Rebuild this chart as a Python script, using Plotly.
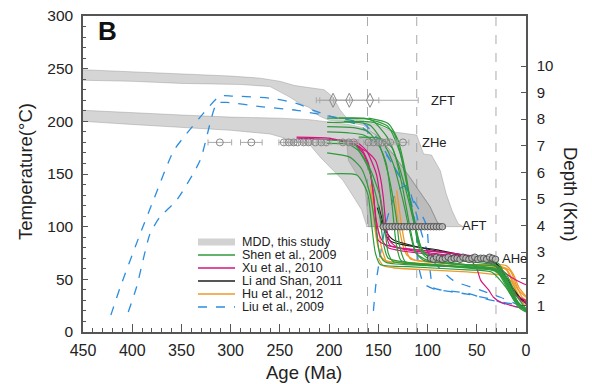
import plotly.graph_objects as go

# ---------------- data (age in Ma, temperature in °C) ----------------
# MDD envelopes
mdd_upper_age = [450, 400, 350, 300, 270, 250, 235, 220, 205, 196, 189, 182, 166, 148, 135, 111, 104, 96, 87, 81, 75, 69, 64,
                 88, 91, 97.5, 118, 135, 150, 165, 185, 200, 210, 220, 230, 240, 260, 290, 350, 400, 450]
mdd_upper_temp = [249, 247, 245, 243, 241, 238, 234, 232, 230, 223, 211, 203, 201, 195, 190, 187, 169, 168, 153, 131, 115, 103, 100,
                  100, 106, 119, 147, 169, 185, 196, 200, 201, 205, 213, 217, 223, 233, 235, 236, 238, 239]
mdd_lower_age = [450, 400, 350, 300, 250, 220, 200, 180, 165, 150, 135, 118, 97.5, 91, 87,
                 162, 162, 167, 175, 186, 196, 209, 219, 230, 260, 300, 350, 400, 450]
mdd_lower_temp = [210.5, 208, 206, 204, 203, 201.6, 199, 197, 194, 186, 169, 147, 119, 106, 100,
                  100, 101, 116, 128, 144, 153.5, 166, 177, 180, 188, 191.5, 194, 197, 200]
mdd_core_age = [182, 180.5, 172, 163.6, 160, 160, 87, 91, 97.5, 118, 135, 150, 165, 182]
mdd_core_temp = [179, 163, 150, 138, 101, 100, 100, 106, 119, 147, 169, 180, 185, 179]

# Shen et al., 2009
shen_age = [
    [202, 165, 155, 141, 131, 121, 113, 108, 100, 60, 30, 20, 10, 0],
    [202, 170, 158, 145, 135, 125, 118, 112, 100, 60, 30, 18, 5, 0],
    [202, 175, 160, 148, 140, 132, 128, 122, 90, 40, 25, 12, 0],
    [202, 180, 165, 150, 142, 136, 132, 127, 100, 50, 30, 15, 0],
    [202, 178, 172, 158, 148, 143, 140, 135, 100, 50, 28, 12, 0],
    [202, 180, 170, 160, 150, 145, 140, 120, 60, 35, 22, 10, 0],
    [202, 179, 167, 158.5, 152, 148, 142, 100, 40, 25, 12, 0],
    [202, 172, 163.6, 160, 156.7, 153, 148, 120, 60, 35, 20, 8, 0],
    [190, 160, 140, 128, 120, 112, 106, 98, 60, 35, 20, 10, 0],
    [185, 155, 135, 125, 117, 110, 103, 90, 50, 30, 20, 8, 0],
    [170, 150, 136, 126, 118, 112, 104, 60, 30, 18, 6, 0],
    [160, 140, 130, 122, 115, 108, 100, 70, 40, 28, 18, 8, 0],
]
shen_temp = [
    [203, 203, 200, 185, 163, 131, 100, 78, 70, 64, 60, 50, 30, 20],
    [199, 199, 196, 180, 160, 125, 95, 75, 68, 63, 59, 42, 24, 21],
    [195, 194, 190, 175, 150, 110, 80, 66, 63, 60, 57, 33, 20],
    [190, 189, 187, 178, 160, 120, 85, 68, 64, 61, 58, 35, 21],
    [182, 181, 176, 154, 128, 95, 75, 67, 64, 60, 58, 32, 20],
    [179, 178, 172, 155, 120, 85, 70, 66, 62, 60, 50, 28, 20],
    [170, 166, 155, 131, 95, 72, 66, 63, 60, 55, 30, 20],
    [150, 149, 138, 128, 101, 75, 64, 62, 59, 57, 42, 24, 19],
    [203, 202, 195, 170, 135, 100, 78, 71, 68, 66, 55, 35, 22],
    [200, 199, 190, 160, 120, 90, 74, 70, 66, 63, 50, 28, 20],
    [185, 184, 175, 140, 100, 76, 68, 64, 62, 45, 24, 21],
    [203, 198, 182, 150, 110, 82, 73, 70, 68, 65, 48, 28, 22],
]

# Xu et al., 2010
xu_age = [
    [233, 200, 186, 175, 165, 158.5, 155, 152, 150, 140, 128, 80, 47, 30, 15, 3, 0],
    [233, 205, 190, 175, 160, 153, 148, 145, 142, 138, 130, 100, 60, 50, 46, 38, 33, 25, 10, 0],
    [200, 180, 168, 160, 155, 152, 148, 140, 110, 70, 45, 30, 20, 10, 0],
    [190, 172, 162, 152, 147, 143, 138, 120, 80, 50, 35, 25, 15, 5, 0],
]
xu_temp = [
    [185, 184, 181, 179, 169, 153, 131, 100, 87, 82, 80, 75, 71, 62, 52, 46, 45],
    [184, 183, 182, 178, 170, 163, 147, 128, 100, 86, 80, 77, 72, 60, 49, 40, 33, 28, 24, 22],
    [183, 181, 175, 160, 130, 105, 90, 80, 75, 71, 68, 62, 48, 35, 30],
    [182, 180, 172, 150, 120, 95, 82, 78, 73, 70, 67, 55, 40, 30, 28],
]

# Li and Shan, 2011
li_age = [
    [150, 147, 143, 138, 134, 111, 67, 45, 32, 22, 12, 4, 0],
    [151, 146, 141, 137, 120, 90, 60, 40, 30, 20, 10, 0],
]
li_temp = [
    [121, 110, 97, 90, 87, 81, 73, 70, 67, 55, 40, 30, 27],
    [118, 102, 90, 86, 82, 78, 72, 69, 64, 50, 36, 28],
]

# Hu et al., 2012
hu_age = [
    [157, 154, 152, 149, 147, 144, 141.5, 130, 111, 67, 40, 26, 19.6, 14, 8, 2.7, 0],
    [158, 156, 153, 150, 146, 140, 120, 90, 50, 30, 20, 14, 8, 0],
    [131.4, 130, 127, 124, 121, 117, 100, 60, 35, 20, 13, 7, 0],
    [133, 131, 128, 125, 121, 112, 80, 45, 25, 16, 10, 4, 0],
    [150, 145, 135, 100, 60, 35, 25, 15, 8, 0],
]
hu_temp = [
    [133, 118, 106, 92, 81, 72, 66.5, 66, 65, 62, 60, 61.7, 58.6, 48, 36, 27, 26],
    [140, 120, 95, 80, 70, 67, 66, 64, 61, 61, 60, 50, 40, 33],
    [134.5, 125, 105, 88, 76, 69, 67, 64, 64, 63, 55, 42, 34],
    [128, 112, 95, 82, 73, 68, 65, 63, 62, 58, 45, 33, 30],
    [70, 63, 61, 59, 57, 55, 54, 48, 35, 28],
]

# Liu et al., 2009
liu_age = [
    [421.7, 412, 392, 378.5, 358, 345, 331, 311, 298, 260, 233, 216, 196, 169, 158.5, 148, 138, 128, 118, 108, 101, 99, 97, 94, 60, 43, 26, 3],
    [404, 395.5, 382, 372, 355, 331, 314, 304, 270, 233, 206, 189, 165, 152, 141.5, 128, 118, 112, 109, 104, 94, 60, 35, 16, 0],
    [155, 152, 141.5, 131, 121, 115, 108, 97.5, 74, 47, 26, 6],
]
liu_temp = [
    [16, 43, 93, 125, 172, 188, 204, 224, 224, 222, 217, 210.5, 204, 196, 188, 176, 163, 147, 131, 115, 101, 80, 55, 42, 37, 32, 28.5, 25],
    [19, 43, 93, 109, 125, 163, 217, 218, 214, 210.5, 206, 203, 198, 185, 169, 147, 128, 100, 62, 46, 41, 36, 31, 25, 22],
    [20, 49, 106, 134, 139, 125, 100, 71, 49, 40, 33, 25],
]

# Thermochronology data
zft_age = [196, 179.5, 158.5]
zft_temp = [220, 220, 220]
zft_err_older = [17, 30, 37]
zft_err_younger = [17, 30, 49]

zhe_age = [311, 279, 246, 241, 236, 232, 226, 221, 214, 208, 203, 186, 180, 175, 160, 155, 150, 146, 142, 138, 125]
zhe_temp = [180] * len(zhe_age)
zhe_err = [12, 11, 5, 5, 5, 5, 5, 5, 5, 5, 5, 5, 5, 5, 5, 5, 5, 5, 5, 5, 6]

aft_age = [145, 142, 139, 136, 133, 130, 127, 124, 121, 118, 115, 112, 109, 106, 103, 100, 97, 94, 91, 88, 85]
aft_temp = [100] * len(aft_age)

ahe_age = [97, 94, 91, 88, 85, 82, 79, 76, 73, 70, 67, 64, 61, 58, 55, 52, 49, 46, 43, 40, 37, 34, 31]
ahe_temp = [70, 69, 71, 70, 69, 70, 71, 69, 70, 70, 69, 71, 70, 69, 70, 71, 69, 70, 70, 69, 71, 70, 69]

boundary_ages = [161, 111, 30.5]
depth_ticks = [1, 2, 3, 4, 5, 6, 7, 8, 9, 10]
km_per_degC = 1 / 25.25

legend_labels = ["MDD, this study", "Shen et al., 2009", "Xu et al., 2010",
                 "Li and Shan, 2011", "Hu et al., 2012", "Liu et al., 2009"]

# ---------------- styling ----------------
FONT = "Liberation Sans, Arial, sans-serif"
C_GREEN = "#2f9a3c"
C_MAG = "#d4147f"
C_BLACK = "#1e1e1e"
C_ORANGE = "#ee9a2a"
C_BLUE = "#2b8de0"
AX = "#555555"

fig = go.Figure()

for ax_, ty_ in [(mdd_upper_age, mdd_upper_temp), (mdd_lower_age, mdd_lower_temp), (mdd_core_age, mdd_core_temp)]:
    fig.add_trace(go.Scatter(x=ax_, y=ty_, mode="lines", fill="toself",
                             fillcolor="rgba(150,150,150,0.40)",
                             line=dict(color="rgba(120,120,120,0.55)", width=0.6),
                             hoverinfo="skip", showlegend=False))


def add_paths(ages, temps, color, width=1.2, dash=None):
    for a, t in zip(ages, temps):
        fig.add_trace(go.Scatter(x=a, y=t, mode="lines",
                                 line=dict(color=color, width=width, shape="spline", smoothing=0.6, dash=dash),
                                 hoverinfo="skip", showlegend=False))


add_paths(liu_age, liu_temp, C_BLUE, 1.3, "dash")
add_paths(hu_age, hu_temp, C_ORANGE, 1.3)
add_paths(li_age, li_temp, C_BLACK, 1.1)
add_paths(xu_age, xu_temp, C_MAG, 1.2)
add_paths(shen_age, shen_temp, C_GREEN, 1.2)

# data points
fig.add_trace(go.Scatter(x=zft_age, y=zft_temp, mode="markers",
                         marker=dict(symbol="diamond-tall-open", size=10, color="#888", line=dict(width=1)),
                         error_x=dict(type="data", symmetric=False, array=zft_err_older, arrayminus=zft_err_younger,
                                      color="#aaa", thickness=1, width=3),
                         hoverinfo="skip", showlegend=False))
fig.add_trace(go.Scatter(x=zhe_age, y=zhe_temp, mode="markers",
                         marker=dict(symbol="circle-open", size=7, color="#888", line=dict(width=1)),
                         error_x=dict(type="data", array=zhe_err, color="#aaa", thickness=1, width=3),
                         hoverinfo="skip", showlegend=False))
fig.add_trace(go.Scatter(x=aft_age, y=aft_temp, mode="markers",
                         marker=dict(symbol="circle", size=6.5, color="rgba(185,185,185,0.75)", line=dict(width=0.9, color="#4a4a4a")),
                         error_x=dict(type="data", array=[3] * len(aft_age), color="#888", thickness=0.8, width=2),
                         hoverinfo="skip", showlegend=False))
fig.add_trace(go.Scatter(x=ahe_age, y=ahe_temp, mode="markers",
                         marker=dict(symbol="circle", size=6.5, color="rgba(185,185,185,0.75)", line=dict(width=0.9, color="#4a4a4a")),
                         error_x=dict(type="data", array=[3] * len(ahe_age), color="#888", thickness=0.8, width=2),
                         hoverinfo="skip", showlegend=False))

# depth axis carrier
fig.add_trace(go.Scatter(x=[0], y=[0], yaxis="y2", mode="markers", marker=dict(opacity=0),
                         hoverinfo="skip", showlegend=False))

# vertical boundaries
for b in boundary_ages:
    fig.add_shape(type="line", xref="x", yref="paper", x0=b, x1=b, y0=0, y1=1,
                  line=dict(color="#aaaaaa", width=1, dash="dash"), layer="below")

# ---------------- layout ----------------
W, H = 592, 384
PL, PT, PW, PH = 83, 16, 443, 316          # plot area in page pixels
L, T = PL, PT
R = W - L - PW
B = H - T - PH


def px2paper(xw, yw):
    return (xw - PL) / PW, (PT + PH - yw) / PH


annotations = []
bx, by = px2paper(107, 31)
annotations.append(dict(x=bx, y=by, xref="paper", yref="paper", text="<b>B</b>", showarrow=False,
                        xanchor="center", yanchor="middle",
                        font=dict(size=26, family=FONT, color="#111")))
for txt, a, t in [("ZFT", 98.2, 220), ("ZHe", 108, 180), ("AFT", 67, 101), ("AHe", 26.4, 70)]:
    annotations.append(dict(x=a, y=t, xref="x", yref="y", text=txt, showarrow=False,
                            xanchor="left", yanchor="middle",
                            font=dict(size=13, family=FONT, color="#222")))
tx, ty = px2paper(304, 372)
annotations.append(dict(x=tx, y=ty, xref="paper", yref="paper", text="Age (Ma)", showarrow=False,
                        xanchor="center", yanchor="middle",
                        font=dict(size=18.5, family=FONT, color="#222")))
tx, ty = px2paper(25, 172)
annotations.append(dict(x=tx, y=ty, xref="paper", yref="paper", text="Temperature(°C)", showarrow=False,
                        xanchor="center", yanchor="middle",
                        textangle=-90, font=dict(size=18.5, family=FONT, color="#222")))
tx, ty = px2paper(571, 194)
annotations.append(dict(x=tx, y=ty, xref="paper", yref="paper", text="Depth (Km)", showarrow=False,
                        xanchor="center", yanchor="middle",
                        textangle=90, font=dict(size=18.5, family=FONT, color="#222")))

# manual legend
shapes = []
rows = [242, 255, 268, 281, 294, 307]
x0p, _ = px2paper(198, 0)
x1p, _ = px2paper(235, 0)
xtp, _ = px2paper(240, 0)
leg_styles = [None, (C_GREEN, None), (C_MAG, None), (C_BLACK, None), (C_ORANGE, None), (C_BLUE, "dash")]
for i, (lab, yrow) in enumerate(zip(legend_labels, rows)):
    _, yp = px2paper(0, yrow)
    if i == 0:
        _, ya = px2paper(0, yrow - 3.5)
        _, yb = px2paper(0, yrow + 3.5)
        shapes.append(dict(type="rect", xref="paper", yref="paper", x0=x0p, x1=x1p, y0=yb, y1=ya,
                           fillcolor="#d2d2d2", line=dict(width=0)))
    else:
        c, d = leg_styles[i]
        shapes.append(dict(type="line", xref="paper", yref="paper", x0=x0p, x1=x1p, y0=yp, y1=yp,
                           line=dict(color=c, width=1.5, dash=d)))
    annotations.append(dict(x=xtp, y=yp, xref="paper", yref="paper", text=lab, showarrow=False,
                            xanchor="left", yanchor="middle", font=dict(size=12.5, family=FONT, color="#222")))

for s in shapes:
    fig.add_shape(**s)

fig.update_layout(
    width=W, height=H, margin=dict(l=L, r=R, t=T, b=B, autoexpand=False),
    plot_bgcolor="white", paper_bgcolor="white", showlegend=False,
    font=dict(family=FONT, color="#222"),
    annotations=annotations,
    xaxis=dict(range=[450, 0], tickvals=[450, 400, 350, 300, 250, 200, 150, 100, 50, 0],
               ticks="inside", ticklen=8, tickwidth=1, tickcolor=AX, automargin=False,
               showline=True, linecolor=AX, linewidth=1.5, mirror=True,
               showgrid=False, zeroline=False, tickfont=dict(size=16, family=FONT, color="#222"),
               ticklabelstandoff=3,
               minor=dict(ticks="inside", ticklen=4, dtick=10, tick0=0, tickcolor=AX, tickwidth=1, showgrid=False)),
    yaxis=dict(range=[0, 300], dtick=50, ticks="inside", ticklen=5, tickwidth=1, tickcolor=AX, automargin=False,
               showline=True, linecolor=AX, linewidth=1.5, mirror=True,
               showgrid=False, zeroline=False, tickfont=dict(size=15.5, family=FONT, color="#222"),
               ticklabelstandoff=5,
               minor=dict(ticks="inside", ticklen=3, dtick=10, tick0=0, tickcolor=AX, tickwidth=1, showgrid=False)),
    yaxis2=dict(range=[0, 300 * km_per_degC], overlaying="y", side="right", tickvals=depth_ticks,
                ticks="inside", ticklen=5, tickwidth=1, tickcolor=AX, automargin=False,
                showline=True, linecolor=AX, linewidth=1.5, showgrid=False, zeroline=False,
                tickfont=dict(size=15, family=FONT, color="#222"), ticklabelstandoff=6),
)

fig.write_html("out.html", config={"displayModeBar": False},
               post_script="document.body.style.margin='0px';document.body.style.overflow='hidden';")
